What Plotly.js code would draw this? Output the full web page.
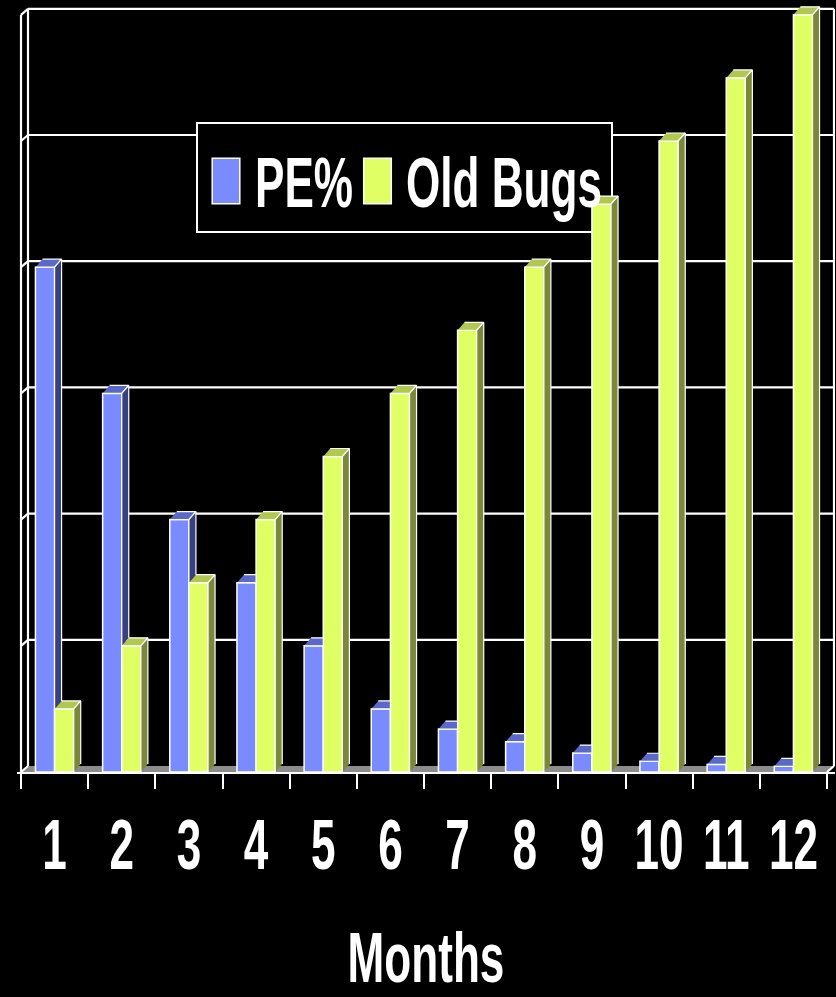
<!DOCTYPE html>
<html>
<head>
<meta charset="utf-8">
<script src="https://cdn.plot.ly/plotly-3.0.1.min.js"></script>
<style>
html,body{margin:0;padding:0;background:#000;}
#chart{width:836px;height:997px;}
</style>
</head>
<body>
<div id="chart"></div>
<script>
// ---- data ----
const months = ['1','2','3','4','5','6','7','8','9','10','11','12'];
const monthPos = [1,2,3,4,5,6,7,8,9,10,11,12];
const pePct = [40, 30, 20, 15, 10, 5, 3.4, 2.4, 1.5, 0.85, 0.6, 0.45];
const oldBugs = [5, 10, 15, 20, 25, 30, 35, 40, 45, 50, 55, 60];
const gridVals = [10, 20, 30, 40, 50, 60];
const tickBounds = [0.5,1.5,2.5,3.5,4.5,5.5,6.5,7.5,8.5,9.5,10.5,11.5,12.5];

// ---- geometry (pixel -> data helpers) ----
const W = 836, H = 997;
const mL = 17, mR = 1, mT = 4, mB = 225;
const xUnit = 806 / 12;          // px per category
const yUnit = 12.62;             // px per value unit
const xLo = 0.5 - (21 - mL) / xUnit;
const xHi = 0.5 + (W - mR - 21) / xUnit;
const yHi = (H - mB - mT) / yUnit;
const X0 = 0.5, X1 = 12.5, YTOP = 60;
const dxW = 7 / xUnit, dyW = 6 / yUnit;   // wall depth
const dxB = 7 / xUnit, dyB = 8 / yUnit;   // bar depth
const BW = 0.285;
const pxX = p => 0.5 + (p - 21) / xUnit;
const pxY = p => (H - mB - p) / yUnit;

const C = {
  blue: '#7a8aff', blueTop: '#5a69c8', blueSide: '#374182',
  green: '#e0ff64', greenTop: '#b0c850', greenSide: '#7a8838',
  floor: '#8c8c8c'
};
const FONT = '"Liberation Sans", Arial, sans-serif';
const FS = 70;          // font size
const SX = 0.63;        // horizontal condensing of the bold text

// ---- 3D faces ----
function poly(pts, xs, ys) { pts.forEach(p => { xs.push(p[0]); ys.push(p[1]); }); xs.push(null); ys.push(null); }
const bTopX=[], bTopY=[], bSideX=[], bSideY=[], gTopX=[], gTopY=[], gSideX=[], gSideY=[];
monthPos.forEach((m, i) => {
  const b = pePct[i], g = oldBugs[i];
  const L = m - BW, R = m, R2 = m + BW;
  if (b >= g) {
    poly([[L,b],[R,b],[R+dxB,b+dyB],[L+dxB,b+dyB]], bTopX, bTopY);
    poly([[R,g],[R,b],[R+dxB,b+dyB],[R+dxB,g+dyB]], bSideX, bSideY);
  } else {
    poly([[L,b],[R,b],[R,b+dyB],[L+dxB,b+dyB]], bTopX, bTopY);
  }
  poly([[R,g],[R2,g],[R2+dxB,g+dyB],[R+dxB,g+dyB]], gTopX, gTopY);
  poly([[R2,0],[R2,g],[R2+dxB,g+dyB],[R2+dxB,dyB]], gSideX, gSideY);
});
function faceTrace(xs, ys, fill) {
  return {type:'scatter', mode:'lines', x:xs, y:ys, fill:'toself', fillcolor:fill,
    line:{color:'#ffffff', width:1.2}, hoverinfo:'skip', showlegend:false};
}

const traces = [
  {type:'bar', name:'PE%', x:monthPos, y:pePct, width:BW, offset:-BW,
   marker:{color:C.blue, line:{color:'#ffffff', width:1.5}}},
  {type:'bar', name:'Old Bugs', x:monthPos, y:oldBugs, width:BW, offset:0,
   marker:{color:C.green, line:{color:'#ffffff', width:1.5}}},
  faceTrace(bTopX, bTopY, C.blueTop),
  faceTrace(bSideX, bSideY, C.blueSide),
  faceTrace(gTopX, gTopY, C.greenTop),
  faceTrace(gSideX, gSideY, C.greenSide)
];

// ---- walls, floor, grid ----
const shapes = [];
const ln = (x0,y0,x1,y1,w) => ({type:'line', xref:'x', yref:'y', x0, y0, x1, y1, layer:'below',
  line:{color:'#ffffff', width:w||2.2}});
shapes.push({type:'path', xref:'x', yref:'y', layer:'below',
  path:`M${X0},0 L${X1},0 L${X1+dxW},${dyW} L${X0+dxW},${dyW} Z`,
  fillcolor:C.floor, line:{width:0}});
gridVals.forEach(v => shapes.push(ln(X0+dxW, v+dyW, X1+dxW, v+dyW)));
[0].concat(gridVals).forEach(v => shapes.push(ln(X0, v, X0+dxW, v+dyW)));
shapes.push(ln(X0, 0, X0, YTOP));
shapes.push(ln(X0+dxW, dyW, X0+dxW, YTOP+dyW));
shapes.push(ln(X1+dxW, dyW, X1+dxW, YTOP+dyW));
shapes.push(ln(X1, 0, X1+dxW, dyW));
// legend box (bars are drawn over it, as in the original)
shapes.push({type:'rect', xref:'x', yref:'y', layer:'below',
  x0:pxX(197), x1:pxX(612), y0:pxY(232), y1:pxY(123),
  fillcolor:'#000000', line:{color:'#ffffff', width:2}});

const boldFont = {family:FONT, size:FS, color:'#ffffff', weight:'bold'};
const layout = {
  width:W, height:H,
  margin:{l:mL, r:mR, t:mT, b:mB, pad:0},
  paper_bgcolor:'#000000', plot_bgcolor:'rgba(0,0,0,0)',
  showlegend:true,
  barmode:'overlay',
  font:{family:FONT, color:'#ffffff'},
  xaxis:{range:[xLo, xHi], tickvals:monthPos, ticktext:months, ticks:'', tickangle:0,
    minor:{tickvals:tickBounds, ticks:'outside', ticklen:15, tickwidth:2, tickcolor:'#ffffff', showgrid:false},
    showgrid:false, zeroline:false, showline:true, linecolor:'#ffffff', linewidth:2,
    tickfont:boldFont, ticklabelstandoff:11,
    title:{text:'Months', font:boldFont, standoff:112},
    automargin:false, fixedrange:true},
  yaxis:{range:[0, yHi], showgrid:false, zeroline:false, showline:false, showticklabels:false,
    ticks:'', automargin:false, fixedrange:true},
  legend:{orientation:'h', x:(197-mL)/(W-mL-mR), y:(H-mB-123)/(H-mB-mT), xanchor:'left', yanchor:'top',
    bgcolor:'rgba(0,0,0,0)', borderwidth:0, itemwidth:30, traceorder:'normal',
    font:boldFont},
  shapes:shapes
};

// condense a text element horizontally around its x anchor
function condense(t) {
  const x = parseFloat(t.getAttribute('x') || '0');
  const old = t.getAttribute('transform') || '';
  t.setAttribute('transform', `${old} translate(${x},0) scale(${SX},1) translate(${-x},0)`);
}
function parseTr(el) {
  const m = /translate\(\s*([-\d.e]+)[ ,]+([-\d.e]+)\s*\)/.exec(el.getAttribute('transform') || '');
  return m ? [parseFloat(m[1]), parseFloat(m[2])] : [0, 0];
}

// legend targets taken from the original layout (text left edge, text baseline, swatch centre)
const legendTargets = [
  {textLeft:255, baseline:207, swX:226, swY:181},
  {textLeft:406, baseline:207, swX:377.5, swY:181}
];

Plotly.newPlot('chart', traces, layout, {displayModeBar:false, staticPlot:true}).then(() => {
  document.querySelectorAll('.xaxislayer-above .xtick text').forEach(condense);
  document.querySelectorAll('.g-xtitle text').forEach(condense);
  document.querySelectorAll('.legend [clip-path]').forEach(e => e.removeAttribute('clip-path'));
  const items = document.querySelectorAll('.legend .traces');
  items.forEach((g, i) => {
    const tgt = legendTargets[i]; if (!tgt) return;
    const t = g.querySelector('text.legendtext');
    condense(t);
    const r = t.getBoundingClientRect();
    const dx = tgt.textLeft - r.left;
    const dy = tgt.baseline - (r.top + 0.905 * FS);
    const [tx, ty] = parseTr(g);
    g.setAttribute('transform', `translate(${tx + dx},${ty + dy})`);
    const p = g.querySelector('.legendpoints path');
    if (p) {
      p.style.vectorEffect = 'non-scaling-stroke';
      p.setAttribute('transform', 'scale(2.3,3.8)');
      const pr = p.getBoundingClientRect();
      const sx = tgt.swX - (pr.left + pr.width / 2), sy = tgt.swY - (pr.top + pr.height / 2);
      p.setAttribute('transform', `translate(${sx},${sy}) scale(2.3,3.8)`);
    }
  });
});
</script>
</body>
</html>
